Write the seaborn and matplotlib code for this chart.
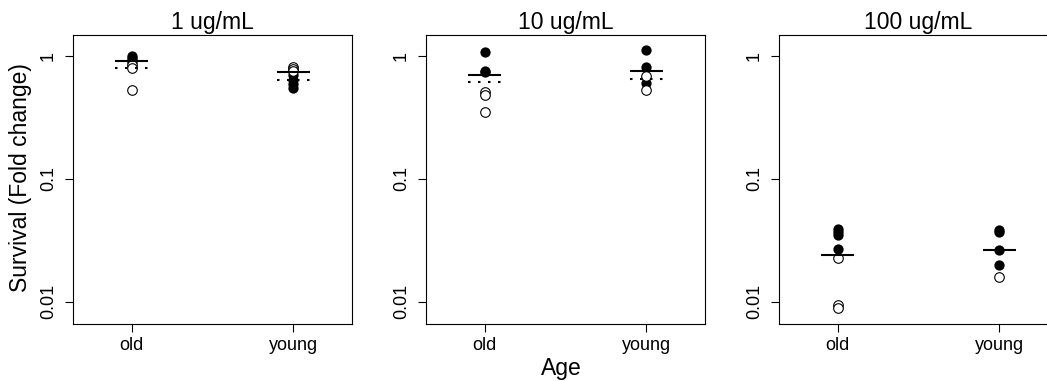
import numpy as np
import pandas as pd
import matplotlib
matplotlib.use("Agg")
import matplotlib.pyplot as plt
from matplotlib.ticker import FixedLocator, NullLocator
import seaborn as sns

# Panels (treatment concentration) and groups
concentrations = ["1 ug/mL", "10 ug/mL", "100 ug/mL"]
ages = ["old", "young"]

# Survival (fold change), filled = one replicate set, open = the other
c1_old_filled = [1.00, 0.96, 0.93, 0.89]
c1_old_open = [0.84, 0.80, 0.53]
c1_young_filled = [0.70, 0.64, 0.59, 0.55]
c1_young_open = [0.81, 0.78, 0.755]

c2_old_filled = [1.07, 0.76, 0.74]
c2_old_open = [0.51, 0.485, 0.347]
c2_young_filled = [1.12, 0.82, 0.60]
c2_young_open = [0.687, 0.529]

c3_old_filled = [0.039, 0.037, 0.035, 0.027]
c3_old_open = [0.0225, 0.0093, 0.0088]
c3_young_filled = [0.0386, 0.0369, 0.0264, 0.0199]
c3_young_open = [0.0160]

# Summary lines per panel (solid and dotted), old / young
solid_old = [0.916, 0.705, 0.0239]
solid_young = [0.737, 0.759, 0.0264]
dotted_old = [0.79, 0.611, np.nan]
dotted_young = [0.638, 0.646, np.nan]

y_ticks = [0.01, 0.1, 1]
y_tick_labels = ["0.01", "0.1", "1"]

filled_sets = [
    (c1_old_filled, c1_young_filled),
    (c2_old_filled, c2_young_filled),
    (c3_old_filled, c3_young_filled),
]
open_sets = [
    (c1_old_open, c1_young_open),
    (c2_old_open, c2_young_open),
    (c3_old_open, c3_young_open),
]

rows = []
for conc, fs, os_ in zip(concentrations, filled_sets, open_sets):
    for age, vals in zip(ages, fs):
        for v in vals:
            rows.append((conc, age, "filled", v))
    for age, vals in zip(ages, os_):
        for v in vals:
            rows.append((conc, age, "open", v))
df = pd.DataFrame(rows, columns=["conc", "age", "kind", "value"])

sns.set_theme(style="white")
plt.rcParams["font.family"] = ["Liberation Sans", "DejaVu Sans"]

W, H = 1047, 381
fig = plt.figure(figsize=(W / 100, H / 100), dpi=100)

panel_left_px = [73, 426, 779]
panel_w_px = 279
top_px, bottom_px = 35, 324

for i, conc in enumerate(concentrations):
    ax = fig.add_axes([panel_left_px[i] / W, 1 - bottom_px / H,
                       panel_w_px / W, (bottom_px - top_px) / H])
    ax.set_yscale("log")
    sub = df[df["conc"] == conc]
    sns.stripplot(data=sub[sub["kind"] == "filled"], x="age", y="value",
                  order=ages, jitter=False, color="black", size=7.4,
                  linewidth=0, ax=ax, zorder=2)
    sns.stripplot(data=sub[sub["kind"] == "open"], x="age", y="value",
                  order=ages, jitter=False, color="white", edgecolor="black",
                  size=6.9, linewidth=0.8, ax=ax, zorder=3)

    for pos, s, d in [(0, solid_old[i], dotted_old[i]),
                      (1, solid_young[i], dotted_young[i])]:
        ax.hlines(s, pos - 0.1, pos + 0.1, color="black", lw=1.5, zorder=4)
        if not np.isnan(d):
            ax.hlines(d, pos - 0.1, pos + 0.1, color="black", lw=1.5,
                      linestyles=[(0, (1.2, 3.6))], zorder=4)

    ax.set_xlim(-0.362, 1.362)
    ax.set_ylim(0.00657, 1.48)
    ax.yaxis.set_major_locator(FixedLocator(y_ticks))
    ax.yaxis.set_minor_locator(NullLocator())
    ax.set_yticklabels(y_tick_labels)
    for lab in ax.get_yticklabels():
        lab.set_rotation(90)
        lab.set_va("center")
    ax.set_xticks([0, 1])
    ax.set_xticklabels(ages)
    ax.tick_params(axis="both", which="major", direction="out", length=5.5,
                   width=0.8, color="black", labelsize=13, labelcolor="black",
                   left=True, bottom=True)
    ax.tick_params(axis="y", pad=6)
    ax.tick_params(axis="x", pad=4)
    ax.set_xlabel("")
    ax.set_ylabel("")
    for sp in ax.spines.values():
        sp.set_visible(True)
        sp.set_color("black")
        sp.set_linewidth(0.8)
    ax.set_title(conc, fontsize=16.5, pad=4, color="black")

fig.text(21 / W, 1 - 178 / H, "Survival (Fold change)", rotation=90,
         ha="center", va="center", fontsize=16.5, color="black")
fig.text(561 / W, 1 - 368 / H, "Age", ha="center", va="center",
         fontsize=16.5, color="black")

fig.savefig("out.png", dpi=100)
